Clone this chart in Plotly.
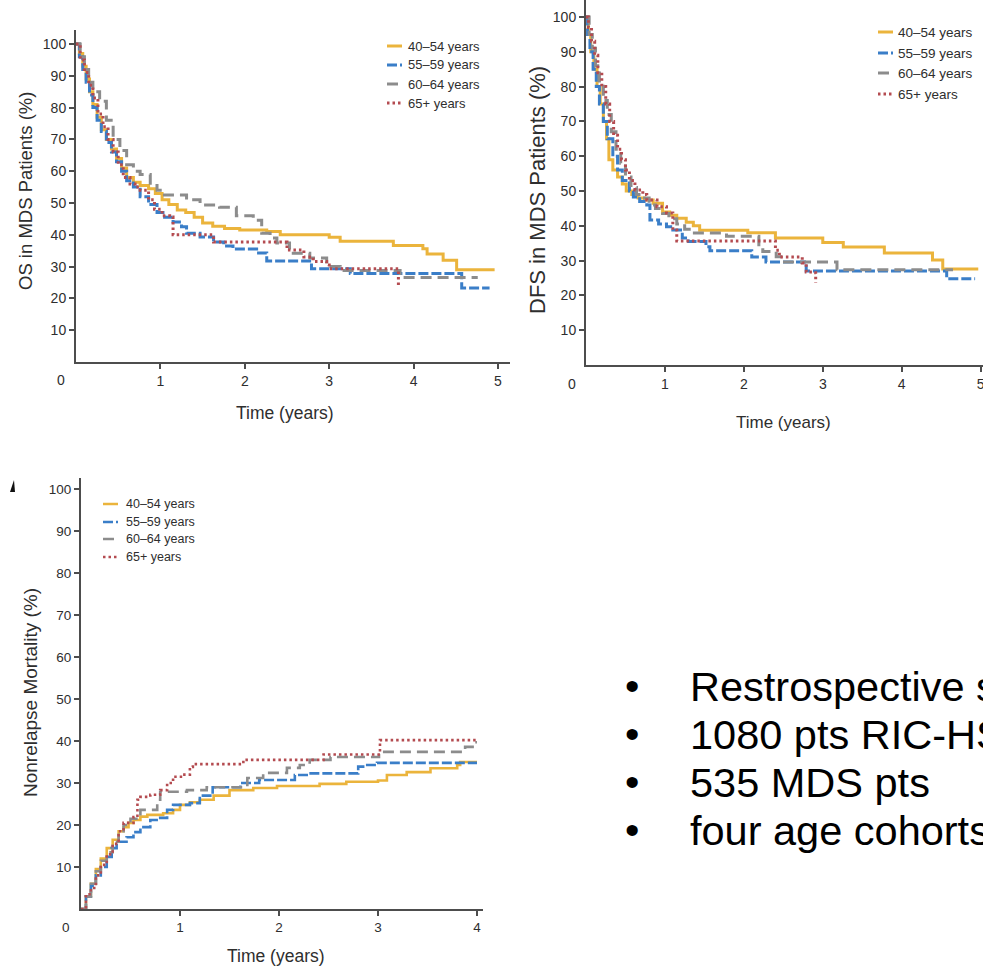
import plotly.graph_objects as go

W, H = 983, 969

# ---------------------------------------------------------------- data
groups = ["40–54 years", "55–59 years", "60–64 years", "65+ years"]

# Overall survival (%)
os_x = {
    "40–54 years": [0, 0.04, 0.08, 0.12, 0.16, 0.2, 0.25, 0.3, 0.36, 0.42, 0.48, 0.54, 0.6, 0.68, 0.76, 0.86, 0.94,
                    1.02, 1.1, 1.2, 1.3, 1.4, 1.5, 1.62, 1.76, 1.94, 2.26, 2.42, 3.0, 3.13, 3.76, 4.11, 4.16, 4.35,
                    4.51, 4.96],
    "55–59 years": [0, 0.04, 0.08, 0.12, 0.16, 0.2, 0.25, 0.3, 0.36, 0.42, 0.48, 0.54, 0.6, 0.68, 0.76, 0.86, 0.96,
                    1.05, 1.15, 1.25, 1.31, 1.47, 1.63, 1.75, 1.86, 2.14, 2.26, 2.79, 3.25, 4.57, 4.9],
    "60–64 years": [0, 0.05, 0.1, 0.15, 0.2, 0.28, 0.36, 0.44, 0.52, 0.6, 0.68, 0.76, 0.88, 0.96, 1.03, 1.31, 1.47,
                    1.7, 1.9, 2.1, 2.2, 2.3, 2.38, 2.53, 2.77, 2.97, 3.13, 3.84, 4.76],
    "65+ years": [0, 0.05, 0.1, 0.15, 0.2, 0.26, 0.32, 0.38, 0.44, 0.5, 0.56, 0.64, 0.7, 0.76, 0.86, 0.93, 1.02,
                  1.11, 1.15, 1.55, 1.63, 2.45, 2.5, 2.7, 2.81, 2.97, 3.0, 3.8, 3.82],
}
os_y = {
    "40–54 years": [100, 97, 93, 89, 85, 81, 77, 73, 70, 67, 64, 61, 58, 56.5, 55.5, 54.5, 53, 51, 49.5, 47.8, 47,
                    45.5, 43.7, 42.7, 42, 41.5, 41, 40, 39.2, 38, 36.6, 35.6, 34, 32, 29, 29],
    "55–59 years": [100, 96, 92, 88, 84, 80, 76, 72.5, 69, 66, 63, 60, 57, 55, 52, 49.5, 47, 45.5, 44, 42.5, 40.5,
                    39.3, 37.7, 36.5, 35.5, 34.3, 31.8, 29.3, 27.8, 23.3, 23.3],
    "60–64 years": [100, 96, 92, 88, 85, 82, 76, 70, 66.5, 62, 60, 59, 55.5, 54, 52.5, 51, 49.4, 48.7, 46, 44.6,
                    40.5, 39, 37.4, 34.2, 32.7, 30, 28.8, 26.6, 26.6],
    "65+ years": [100, 95, 91, 87, 83, 78, 74, 70, 66, 62, 58, 56, 55, 54, 51, 48, 46, 45.6, 40, 40, 37.7, 37.7,
                  35.2, 33, 31.6, 30.5, 29.3, 29.3, 23.5],
}

# Disease-free survival (%)
dfs_x = {
    "40–54 years": [0, 0.03, 0.06, 0.1, 0.14, 0.18, 0.22, 0.26, 0.29, 0.34, 0.4, 0.46, 0.51, 0.58, 0.66, 0.74, 0.85,
                    0.97, 1.06, 1.15, 1.27, 1.36, 1.44, 2.05, 2.4, 3.0, 3.26, 3.78, 4.39, 4.52, 4.97],
    "55–59 years": [0, 0.02, 0.05, 0.09, 0.13, 0.17, 0.22, 0.27, 0.34, 0.4, 0.46, 0.55, 0.6, 0.68, 0.77, 0.81, 0.92,
                    1.02, 1.1, 1.22, 1.3, 1.52, 1.57, 2.1, 2.28, 2.79, 4.57, 4.93],
    "60–64 years": [0, 0.04, 0.08, 0.12, 0.17, 0.22, 0.27, 0.32, 0.38, 0.44, 0.5, 0.57, 0.64, 0.72, 0.8, 0.88, 0.97,
                    1.05, 1.15, 1.25, 1.35, 1.78, 2.19, 2.24, 2.41, 2.49, 3.18, 4.65],
    "65+ years": [0, 0.03, 0.07, 0.11, 0.15, 0.2, 0.25, 0.3, 0.35, 0.4, 0.45, 0.5, 0.55, 0.62, 0.72, 0.77, 0.9,
                  1.02, 1.1, 1.15, 2.36, 2.4, 2.45, 2.74, 2.79, 2.87, 2.91],
}
dfs_y = {
    "40–54 years": [100, 95, 90, 85, 80, 75, 70, 65, 59, 56, 54, 52, 50, 49, 48, 47.4, 46.5, 44, 43, 42.2, 41, 40,
                    38.7, 38, 36.5, 35.2, 33.9, 32.2, 30.2, 27.6, 27.6],
    "55–59 years": [100, 95, 90, 85, 80, 75, 70, 65, 60, 56, 53, 50, 48.3, 47, 46, 41.7, 40.5, 39.7, 38.8, 36.5,
                    35.5, 34, 32.8, 31, 29.6, 27, 24.8, 24.8],
    "60–64 years": [100, 95, 91, 86, 81, 76, 72, 67, 62, 58, 54, 51, 49, 48, 46, 45, 43.5, 42, 40.5, 39, 37.9, 37,
                    34, 32.6, 31.1, 29.6, 27.4, 27.4],
    "65+ years": [100, 97, 93, 89, 84, 80, 75, 70, 66, 62, 59, 56, 53, 50.3, 49, 47.4, 45.5, 43.7, 38.8, 35.6,
                  35.6, 33, 31, 29.3, 26.7, 26.5, 23.6],
}

# Nonrelapse mortality (%)
nrm_x = {
    "40–54 years": [0, 0.05, 0.1, 0.15, 0.2, 0.26, 0.32, 0.38, 0.43, 0.48, 0.53, 0.6, 0.67, 0.83, 0.93, 1.0, 1.1,
                    1.2, 1.34, 1.5, 1.74, 1.98, 2.41, 2.68, 3.0, 3.09, 3.29, 3.53, 3.8, 3.83, 4.0],
    "55–59 years": [0, 0.05, 0.1, 0.15, 0.2, 0.26, 0.31, 0.36, 0.46, 0.53, 0.6, 0.7, 0.8, 0.87, 0.93, 1.1, 1.2,
                    1.33, 1.61, 1.8, 2.16, 2.28, 2.8, 2.85, 2.99, 4.0],
    "60–64 years": [0, 0.05, 0.1, 0.15, 0.2, 0.26, 0.32, 0.38, 0.43, 0.5, 0.6, 0.77, 0.8, 1.07, 1.27, 1.68, 1.84,
                    2.08, 2.21, 2.31, 2.52, 3.01, 3.88, 3.98, 4.0],
    "65+ years": [0, 0.05, 0.1, 0.15, 0.2, 0.26, 0.32, 0.38, 0.43, 0.53, 0.57, 0.6, 0.7, 0.8, 0.87, 0.93, 1.03,
                  1.1, 1.13, 1.64, 2.45, 3.02, 4.0],
}
nrm_y = {
    "40–54 years": [0, 3, 6, 9.5, 12, 14.5, 16.5, 18.5, 19.5, 20.5, 21.2, 22, 22.4, 22.8, 23.6, 24.8, 25.4, 26, 27,
                    28.3, 28.8, 29.3, 29.8, 30.3, 30.6, 31.9, 32.6, 33.5, 34.3, 35, 35],
    "55–59 years": [0, 3, 5.5, 8, 10, 12.4, 14.5, 16, 17.1, 18.3, 19.5, 21.2, 21.7, 23.6, 24.8, 25.2, 27, 29, 30,
                    30.7, 31.9, 32.3, 33.9, 34.3, 34.8, 34.8],
    "60–64 years": [0, 3, 6, 9, 11.5, 13.5, 16, 18.5, 20, 21.5, 23.6, 26, 27.9, 28.3, 29, 31.2, 32.4, 33.6, 34.3,
                    35.5, 36.2, 37.4, 38.6, 39.7, 39.7],
    "65+ years": [0, 3.5, 5, 8, 10.5, 13, 15.5, 18.5, 20.5, 21.9, 26, 26.7, 27.2, 28.3, 30, 31.5, 32, 33.8, 34.5,
                  35.5, 36.8, 40.2, 40.2],
}

x_ticks_5 = [1, 2, 3, 4, 5]
x_ticks_4 = [1, 2, 3, 4]
y_ticks = [10, 20, 30, 40, 50, 60, 70, 80, 90, 100]

bullets = ["Restrospective study", "1080 pts RIC-HSCT", "535 MDS pts", "four age cohorts"]

# ---------------------------------------------------------------- styles
colors = {"40–54 years": "#EBB43C", "55–59 years": "#3A7EC8",
          "60–64 years": "#8C8C8C", "65+ years": "#B44B50"}
dashes = {"40–54 years": "solid", "55–59 years": "10px,3px",
          "60–64 years": "11px,6px", "65+ years": "2.5px,3px"}

ARIAL = "Liberation Sans, Arial, Helvetica, sans-serif"
AX = "#4d4d4d"
TXT = "#2e2e2e"


def fx(p):
    return p / W


def fy(p):
    return 1 - p / H


# panel geometry (pixels): axis origin, unit sizes and extent
panels = [
    dict(key="", xs=os_x, ys=os_y, x0=76, ux=84.4, xend=510, y0=362, uy=3.18, ytop=30,
         xt=x_ticks_5, ticksize=14, lw=3.0, xmax=None),
    dict(key="2", xs=dfs_x, ys=dfs_y, x0=586, ux=79.3, xend=983, y0=365, uy=3.48, ytop=0,
         xt=x_ticks_5, ticksize=14, lw=3.0, xmax=5.03),
    dict(key="3", xs=nrm_x, ys=nrm_y, x0=81, ux=99.0, xend=483, y0=909, uy=4.2, ytop=478,
         xt=x_ticks_4, ticksize=13.5, lw=2.6, xmax=None),
]

fig = go.Figure()
layout = {}
for p in panels:
    k = p["key"]
    for g in groups:
        fig.add_trace(go.Scatter(
            x=p["xs"][g], y=p["ys"][g], mode="lines", name=g, showlegend=False,
            line=dict(shape="hv", color=colors[g], width=p["lw"], dash=dashes[g]),
            xaxis="x" + k, yaxis="y" + k, hoverinfo="skip"))
    axis_common = dict(showline=True, linecolor=AX, linewidth=2, ticks="outside", ticklen=5,
                       tickwidth=1.5, tickcolor=AX, showgrid=False, zeroline=False,
                       tickfont=dict(family=ARIAL, size=p["ticksize"], color=TXT),
                       ticklabeloverflow="allow", automargin=False, fixedrange=True)
    xmax = p["xmax"] if p["xmax"] else (p["xend"] - p["x0"]) / p["ux"]
    layout["xaxis" + k] = dict(axis_common, domain=[fx(p["x0"]), min(1.0, fx(p["xend"]))],
                               range=[0, xmax], tickvals=p["xt"], anchor="y" + k)
    layout["yaxis" + k] = dict(axis_common, domain=[fy(p["y0"]), fy(p["ytop"])],
                               range=[0, (p["y0"] - p["ytop"]) / p["uy"]],
                               tickvals=y_ticks, anchor="x" + k)

annotations = []
shapes = []


def text(x, y, s, size, family, color=TXT, xanchor="center", angle=0, yanchor="middle"):
    annotations.append(dict(x=fx(x), y=fy(y), xref="paper", yref="paper", text=s, showarrow=False,
                            xanchor=xanchor, yanchor=yanchor, textangle=angle,
                            font=dict(size=size, family=family, color=color)))


# origin labels
text(61, 380, "0", 14, ARIAL)
text(572, 384, "0", 14, ARIAL)
text(66, 927, "0", 13.5, ARIAL)

# axis titles
text(285, 413, "Time (years)", 17.5, ARIAL)
text(783, 422, "Time (years)", 17, ARIAL)
text(276, 956, "Time (years)", 17.5, ARIAL)
text(25, 191, "OS in MDS Patients (%)", 18.5, ARIAL, angle=-90)
text(538, 190, "DFS in MDS Patients (%)", 22, ARIAL, angle=-90)
text(30, 693, "Nonrelapse Mortality (%)", 19, ARIAL, angle=-90)

# legends: sample line + label for every age group
legends = [
    dict(x=387, length=15, tx=406, rows=[46, 65, 84, 103], size=13, lw=3),
    dict(x=878, length=15, tx=896, rows=[32, 53, 73, 94], size=13.5, lw=3),
    dict(x=103, length=15, tx=124, rows=[504, 522, 539, 557], size=12.5, lw=2.5),
]
for lg in legends:
    for g, ry in zip(groups, lg["rows"]):
        shapes.append(dict(type="line", xref="paper", yref="paper",
                           x0=fx(lg["x"]), x1=fx(lg["x"] + lg["length"]), y0=fy(ry), y1=fy(ry),
                           line=dict(color=colors[g], width=lg["lw"], dash=dashes[g])))
        text(lg["tx"], ry, g, lg["size"], ARIAL, xanchor="left")

# bullet list
for i, b in enumerate(bullets):
    yy = 686 + i * 48
    text(632, yy, "•", 41, ARIAL, color="#000000")
    text(688, yy, b, 41.5, ARIAL, color="#000000", xanchor="left")

# small panel marker at the far left of the lower panel
shapes.append(dict(type="path", xref="paper", yref="paper",
                   path="M {} {} L {} {} L {} {} Z".format(fx(10), fy(492), fx(14), fy(480), fx(15), fy(492)),
                   fillcolor="#111111", line=dict(width=0)))

fig.update_layout(
    width=W, height=H, margin=dict(l=0, r=0, t=0, b=0), template="none",
    paper_bgcolor="white", plot_bgcolor="rgba(0,0,0,0)", showlegend=False,
    annotations=annotations, shapes=shapes, **layout)

fig.write_html("out.html")
